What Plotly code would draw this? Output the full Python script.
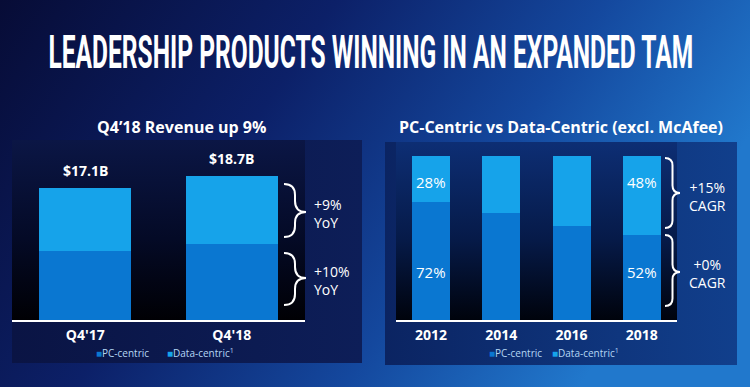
import base64
import plotly.graph_objects as go

# ---------------- data ----------------
quarters = ["Q4'17", "Q4'18"]
q_pc = [8.9, 9.8]          # $B PC-centric
q_dc = [8.2, 8.9]          # $B Data-centric
q_total_labels = ["$17.1B", "$18.7B"]

years = ["2012", "2014", "2016", "2018"]
y_pc = [72, 65, 57, 52]    # % PC-centric
y_dc = [28, 35, 43, 48]    # % Data-centric
y_pc_labels = ["72%", "", "", "52%"]
y_dc_labels = ["28%", "", "", "48%"]

title = "LEADERSHIP PRODUCTS WINNING IN AN EXPANDED TAM"
sub_left = "Q4\u201918 Revenue up 9%"
sub_right = "PC-Centric vs Data-Centric (excl. McAfee)"
brace_left = ["+9%<br>YoY", "+10%<br>YoY"]
brace_right = ["+15%<br>CAGR", "+0%<br>CAGR"]

PC_COLOR = "#0a77d1"
DC_COLOR = "#16a3ea"
W, H = 750, 387

# ---------------- background (decoration) ----------------
svg = f"""<svg xmlns='http://www.w3.org/2000/svg' width='{W}' height='{H}' viewBox='0 0 {W} {H}'>
<defs>
<linearGradient id='bg' x1='0' y1='0' x2='1' y2='0.35'>
<stop offset='0' stop-color='#070c36'/><stop offset='0.4' stop-color='#0c2068'/>
<stop offset='0.72' stop-color='#14489e'/><stop offset='1' stop-color='#2178cc'/></linearGradient>
<linearGradient id='lbox' x1='0' y1='0' x2='1' y2='0'>
<stop offset='0' stop-color='#0a1444'/><stop offset='1' stop-color='#0d1e58'/></linearGradient>
<linearGradient id='rbox' x1='0' y1='0' x2='1' y2='0'>
<stop offset='0' stop-color='#0b2462'/><stop offset='1' stop-color='#113f8c'/></linearGradient>
<linearGradient id='lin' x1='0' y1='0' x2='0' y2='1'>
<stop offset='0' stop-color='#0b1645'/><stop offset='0.55' stop-color='#040a26'/><stop offset='1' stop-color='#000004'/></linearGradient>
<linearGradient id='rin' x1='0' y1='0' x2='0' y2='1'>
<stop offset='0' stop-color='#0d2e74'/><stop offset='0.55' stop-color='#061a48'/><stop offset='1' stop-color='#00030c'/></linearGradient>
</defs>
<rect x='0' y='0' width='{W}' height='{H}' fill='url(#bg)'/>
<rect x='12' y='140' width='350' height='223' fill='url(#lbox)'/>
<rect x='12' y='140' width='293' height='180' fill='url(#lin)'/>
<rect x='385' y='142' width='352' height='223' fill='url(#rbox)'/>
<rect x='396' y='142' width='281' height='178' fill='url(#rin)'/>
</svg>"""
bg_uri = "data:image/svg+xml;base64," + base64.b64encode(svg.encode()).decode()


def px(x):
    return x / W


def py(y):
    return 1 - y / H


fig = go.Figure()
NOLINE = dict(width=0)
# left chart
fig.add_trace(go.Bar(x=quarters, y=q_pc, marker=dict(color=PC_COLOR, line=NOLINE), width=0.63,
                     name="PC-centric", xaxis="x", yaxis="y"))
fig.add_trace(go.Bar(x=quarters, y=q_dc, marker=dict(color=DC_COLOR, line=NOLINE), width=0.63,
                     name="Data-centric", xaxis="x", yaxis="y"))
# right chart
fig.add_trace(go.Bar(x=years, y=y_pc, marker=dict(color=PC_COLOR, line=NOLINE), width=0.54,
                     name="PC-centric", xaxis="x2", yaxis="y2"))
fig.add_trace(go.Bar(x=years, y=y_dc, marker=dict(color=DC_COLOR, line=NOLINE), width=0.54,
                     name="Data-centric", xaxis="x2", yaxis="y2"))

FONT = "Open Sans"
ann = []


def pann(x, y, text, size, xanchor="center", align="center", family=FONT, **kw):
    return dict(x=px(x), y=py(y), xref="paper", yref="paper", text=text, showarrow=False,
                xanchor=xanchor, yanchor="middle", align=align,
                font=dict(family=family, size=size, color=kw.pop("color", "white")), **kw)


# value labels on left
for i, (a, b, lab) in enumerate(zip(q_pc, q_dc, q_total_labels)):
    ann.append(dict(x=i, y=a + b, xref="x", yref="y", text=f"<b>{lab}</b>", showarrow=False,
                    xanchor="center", yanchor="bottom", yshift=6,
                    font=dict(family=FONT, size=14, color="white")))
# percent labels on right
for i, (p, d, pl, dl) in enumerate(zip(y_pc, y_dc, y_pc_labels, y_dc_labels)):
    if dl:
        ann.append(dict(x=i, y=p + d - 16, xref="x2", yref="y2", text=dl, showarrow=False,
                        xanchor="center", yanchor="middle",
                        font=dict(family=FONT, size=15, color="white")))
    if pl:
        ann.append(dict(x=i, y=29, xref="x2", yref="y2", text=pl, showarrow=False,
                        xanchor="center", yanchor="middle",
                        font=dict(family=FONT, size=15, color="white")))

# titles
ann.append(pann(371, 52, f"<b>{title}</b>", 46, family="Roboto"))
ann.append(pann(181, 127, f"<b>{sub_left}</b>", 16))
ann.append(pann(561, 127, f"<b>{sub_right}</b>", 16))

# brace texts
for txt, yc in zip(brace_left, [213, 280]):
    ann.append(pann(312, yc, txt, 14, xanchor="left", align="left"))
for txt, yc in zip(brace_right, [196, 273]):
    ann.append(pann(707, yc, txt, 14))

# legends (annotations)
LEG = "#b4d6f4"


def leg(x, color, label):
    return pann(x, 353, f"<span style='color:{color}'>\u25a0</span>{label}", 10,
                xanchor="left", align="left", color=LEG)


ann.append(leg(94, PC_COLOR, "PC-centric"))
ann.append(leg(165, DC_COLOR, "Data-centric<sup>1</sup>"))
ann.append(leg(487, PC_COLOR, "PC-centric"))
ann.append(leg(550, DC_COLOR, "Data-centric<sup>1</sup>"))


# braces
def brace(xl, xr, yt, yb, ym):
    xm = (xl + xr) / 2
    r = (xr - xl) / 2
    pts = [
        f"M{px(xl)},{py(yt)}",
        f"Q{px(xm)},{py(yt)} {px(xm)},{py(yt + r)}",
        f"L{px(xm)},{py(ym - r)}",
        f"Q{px(xm)},{py(ym)} {px(xr)},{py(ym)}",
        f"Q{px(xm)},{py(ym)} {px(xm)},{py(ym + r)}",
        f"L{px(xm)},{py(yb - r)}",
        f"Q{px(xm)},{py(yb)} {px(xl)},{py(yb)}",
    ]
    return dict(type="path", xref="paper", yref="paper", path=" ".join(pts),
                line=dict(color="white", width=2), layer="above")


shapes = [
    brace(284, 306, 184, 237, 212),
    brace(284, 306, 253, 305, 278),
    brace(665, 680, 158, 228, 193),
    brace(665, 680, 235, 306, 272),
]

axis_x = dict(type="category", showgrid=False, zeroline=False, showline=True, linecolor="white",
              linewidth=2, ticks="", ticklabelstandoff=1,
              tickfont=dict(family=FONT, size=14, color="white", weight="bold"),
              fixedrange=True)
axis_y = dict(visible=False, showgrid=False, zeroline=False, fixedrange=True)

fig.update_layout(
    width=W, height=H,
    margin=dict(l=0, r=0, t=0, b=0),
    paper_bgcolor="#0a1a5a", plot_bgcolor="rgba(0,0,0,0)",
    barmode="stack", bargap=0, showlegend=False,
    images=[dict(source=bg_uri, xref="paper", yref="paper", x=0, y=1, sizex=1, sizey=1,
                 sizing="stretch", layer="below", xanchor="left", yanchor="top")],
    xaxis=dict(axis_x, domain=[px(12), px(305)], range=[-0.5, 1.5], anchor="y"),
    yaxis=dict(axis_y, domain=[py(320), py(140)], range=[0, 23.3], anchor="x"),
    xaxis2=dict(axis_x, domain=[px(396), px(677)], range=[-0.5, 3.5], anchor="y2"),
    yaxis2=dict(axis_y, domain=[py(320), py(142)], range=[0, 108.5], anchor="x2"),
    annotations=ann, shapes=shapes,
)

post = """
document.body.style.margin = '0';
document.body.style.overflow = 'hidden';
var gd = document.getElementById('{plot_id}');
gd.querySelectorAll('text.annotation-text').forEach(function (t) {
  if (t.textContent.indexOf('LEADERSHIP') === 0) {
    var bb = t.getBBox();
    var s = 645 / bb.width;
    var cx = bb.x + bb.width / 2;
    t.setAttribute('transform', 'translate(' + (cx * (1 - s)) + ',0) scale(' + s + ',1)');
  }
});
"""

fig.write_html("out.html", post_script=post, config={"displayModeBar": False})
